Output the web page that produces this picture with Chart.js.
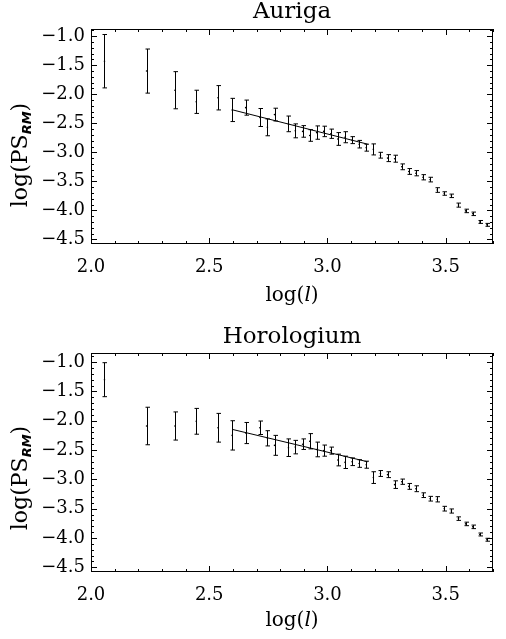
<!DOCTYPE html>
<html>
<head>
<meta charset="utf-8">
<script src="https://cdn.jsdelivr.net/npm/chart.js@4.4.1/dist/chart.umd.min.js"></script>
<style>
  html, body { margin: 0; padding: 0; background: #fff; }
  .panel { position: absolute; left: 0; width: 506px; }
  #wrapTop { top: 0; height: 320px; }
  #wrapBottom { top: 320px; height: 319px; }
</style>
</head>
<body>
<div class="panel" id="wrapTop"><canvas id="auriga" width="506" height="320"></canvas></div>
<div class="panel" id="wrapBottom"><canvas id="horologium" width="506" height="319"></canvas></div>
<script>
// multipole bins, log(l)
const logL = [2.057, 2.235, 2.355, 2.445, 2.537, 2.597, 2.654, 2.714, 2.746, 2.776,
              2.835, 2.864, 2.895, 2.925, 2.954, 2.984, 3.014, 3.044, 3.074, 3.104,
              3.134, 3.164, 3.194, 3.224, 3.254, 3.284, 3.314, 3.344, 3.374, 3.404,
              3.434, 3.464, 3.494, 3.524, 3.554, 3.584, 3.614, 3.644, 3.674];

// Auriga: log(PS_RM) and 1-sigma
const aurigaPS = [-1.43, -1.60, -1.93, -2.13, -2.06, -2.27, -2.23, -2.40, -2.57, -2.35,
                  -2.51, -2.63, -2.64, -2.71, -2.66, -2.64, -2.68, -2.77, -2.74, -2.79,
                  -2.86, -2.92, -2.95, -3.05, -3.10, -3.11, -3.25, -3.33, -3.36, -3.43,
                  -3.47, -3.65, -3.71, -3.75, -3.91, -4.01, -4.06, -4.20, -4.25];
const aurigaErr = [0.46, 0.38, 0.32, 0.20, 0.21, 0.20, 0.13, 0.155, 0.145, 0.11,
                   0.135, 0.12, 0.10, 0.10, 0.115, 0.09, 0.08, 0.11, 0.095, 0.06,
                   0.065, 0.06, 0.095, 0.05, 0.06, 0.06, 0.05, 0.05, 0.045, 0.045,
                   0.04, 0.04, 0.03, 0.03, 0.035, 0.03, 0.03, 0.025, 0.025];

// Horologium
const horologiumPS = [-1.30, -2.09, -2.09, -2.01, -2.12, -2.25, -2.21, -2.12, -2.30, -2.42,
                      -2.46, -2.45, -2.40, -2.35, -2.49, -2.51, -2.51, -2.67, -2.71, -2.70,
                      -2.73, -2.75, -2.97, -2.90, -2.92, -3.09, -3.04, -3.12, -3.16, -3.27,
                      -3.33, -3.34, -3.50, -3.54, -3.67, -3.76, -3.81, -3.94, -4.03];
const horologiumErr = [0.29, 0.32, 0.24, 0.22, 0.245, 0.25, 0.18, 0.115, 0.13, 0.17,
                       0.15, 0.115, 0.09, 0.13, 0.125, 0.095, 0.06, 0.10, 0.105, 0.065,
                       0.065, 0.06, 0.10, 0.05, 0.05, 0.065, 0.045, 0.05, 0.05, 0.04,
                       0.04, 0.045, 0.04, 0.035, 0.03, 0.03, 0.03, 0.025, 0.025];

// power-law fits
const aurigaFitX = [2.60, 3.17];
const aurigaFitY = [-2.27, -2.86];
const horologiumFitX = [2.60, 3.17];
const horologiumFitY = [-2.15, -2.70];

const FONT = 'DejaVu Serif';
const isMajor = v => Math.abs(v * 2 - Math.round(v * 2)) < 1e-6;

// error bars, frame and inward IDL-style ticks
const idlAxes = {
    id: 'idlAxes',
    afterDatasetsDraw(chart) {
        const { ctx, chartArea: a, scales: { x, y } } = chart;
        ctx.save();
        ctx.strokeStyle = '#000';
        ctx.lineWidth = 1;

        const pts = chart.data.datasets[0].data;
        ctx.beginPath();
        pts.forEach(p => {
            const px = Math.round(x.getPixelForValue(p.x)) + 0.5;
            const y0 = y.getPixelForValue(p.y - p.err);
            const y1 = y.getPixelForValue(p.y + p.err);
            ctx.moveTo(px, y0); ctx.lineTo(px, y1);
            ctx.moveTo(px - 2, y0); ctx.lineTo(px + 2.5, y0);
            ctx.moveTo(px - 2, y1); ctx.lineTo(px + 2.5, y1);
        });
        ctx.stroke();

        ctx.strokeRect(a.left + 0.5, a.top + 0.5, a.width - 1, a.height - 1);

        ctx.beginPath();
        x.ticks.forEach(t => {
            const px = Math.round(x.getPixelForValue(t.value)) + 0.5;
            const len = isMajor(t.value) ? 6 : 3;
            ctx.moveTo(px, a.bottom); ctx.lineTo(px, a.bottom - len);
            ctx.moveTo(px, a.top); ctx.lineTo(px, a.top + len);
        });
        y.ticks.forEach(t => {
            const py = Math.round(y.getPixelForValue(t.value)) + 0.5;
            const len = isMajor(t.value) ? 6 : 3;
            ctx.moveTo(a.left, py); ctx.lineTo(a.left + len, py);
            ctx.moveTo(a.right, py); ctx.lineTo(a.right - len, py);
        });
        ctx.stroke();
        ctx.restore();
    },
    afterDraw(chart, args, opts) {
        const { ctx, chartArea: a } = chart;
        const cx = (a.left + a.right) / 2;
        ctx.save();
        ctx.fillStyle = '#000';
        ctx.textBaseline = 'alphabetic';

        // panel title
        ctx.font = `23px "${FONT}"`;
        ctx.textAlign = 'center';
        ctx.fillText(opts.title, cx, opts.titleY);

        // x title: log(l) with italic l
        const parts = [['log(', `20px "${FONT}"`], ['l', `italic 20px "${FONT}"`], [')', `20px "${FONT}"`]];
        let w = 0;
        parts.forEach(([s, f]) => { ctx.font = f; w += ctx.measureText(s).width; });
        let xx = cx - w / 2;
        ctx.textAlign = 'left';
        parts.forEach(([s, f]) => { ctx.font = f; ctx.fillText(s, xx, opts.xTitleY); xx += ctx.measureText(s).width; });

        // y title: log(PS_RM), rotated
        const base = `22px "${FONT}"`;
        const sub = 'italic bold 13px "DejaVu Sans"';
        ctx.translate(opts.yTitleX, opts.yTitleY);
        ctx.rotate(-Math.PI / 2);
        ctx.font = base;
        const w1 = ctx.measureText('log(PS').width;
        const w3 = ctx.measureText(')').width;
        ctx.font = sub;
        const w2 = ctx.measureText('RM').width;
        let sx = -(w1 + w2 + w3) / 2;
        ctx.font = base;
        ctx.fillText('log(PS', sx, 0); sx += w1;
        ctx.font = sub;
        ctx.fillText('RM', sx, 4); sx += w2;
        ctx.font = base;
        ctx.fillText(')', sx, 0);
        ctx.restore();
    }
};

function makePanel(canvasId, title, ps, err, fitX, fitY, layout) {
    const points = logL.map((v, i) => ({ x: v, y: ps[i], err: err[i] }));
    const fit = fitX.map((v, i) => ({ x: v, y: fitY[i] }));
    return new Chart(document.getElementById(canvasId), {
        type: 'scatter',
        data: {
            datasets: [{
                data: points,
                pointRadius: 0.8,
                pointBackgroundColor: '#000',
                pointBorderWidth: 0
            }, {
                type: 'line',
                data: fit,
                borderColor: '#000',
                borderWidth: 1,
                pointRadius: 0,
                fill: false
            }]
        },
        options: {
            responsive: false,
            animation: false,
            devicePixelRatio: 1,
            layout: { padding: { left: 0, right: 1, top: layout.top, bottom: 0 } },
            plugins: {
                legend: { display: false },
                tooltip: { enabled: false },
                idlAxes: {
                    title: title,
                    titleY: layout.titleY,
                    xTitleY: layout.xTitleY,
                    yTitleX: 27,
                    yTitleY: layout.yTitleY
                }
            },
            scales: {
                x: {
                    type: 'linear',
                    min: 2.0,
                    max: 3.7,
                    grid: { display: false, drawTicks: false },
                    border: { display: false },
                    ticks: {
                        stepSize: 0.1,
                        maxTicksLimit: 100,
                        autoSkip: false,
                        maxRotation: 0,
                        padding: 13,
                        color: '#000',
                        font: { family: FONT, size: 18 },
                        callback: v => isMajor(v) ? v.toFixed(1) : ''
                    },
                    afterFit: s => { s.height = layout.height - layout.bottom; }
                },
                y: {
                    type: 'linear',
                    min: layout.yMin,
                    max: layout.yMax,
                    grid: { display: false, drawTicks: false },
                    border: { display: false },
                    ticks: {
                        stepSize: 0.1,
                        maxTicksLimit: 100,
                        autoSkip: false,
                        includeBounds: false,
                        padding: 6,
                        color: '#000',
                        font: { family: FONT, size: 18 },
                        callback: v => isMajor(v) ? v.toFixed(1).replace('-', '\u2212') : ''
                    },
                    afterFit: s => { s.width = 91; }
                }
            }
        },
        plugins: [idlAxes]
    });
}

makePanel('auriga', 'Auriga', aurigaPS, aurigaErr, aurigaFitX, aurigaFitY, {
    height: 320, top: 29, bottom: 244, yMin: -4.58, yMax: -0.875,
    titleY: 18, xTitleY: 301, yTitleY: 155
});
makePanel('horologium', 'Horologium', horologiumPS, horologiumErr, horologiumFitX, horologiumFitY, {
    height: 319, top: 33, bottom: 252, yMin: -4.58, yMax: -0.845,
    titleY: 23, xTitleY: 306, yTitleY: 158
});
</script>
</body>
</html>
